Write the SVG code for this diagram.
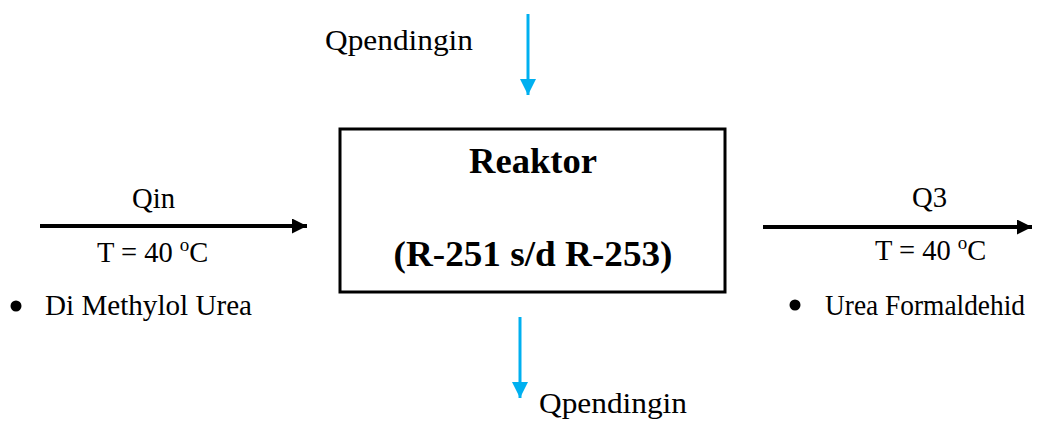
<svg xmlns="http://www.w3.org/2000/svg" width="1041" height="423" viewBox="0 0 1041 423">
  <defs>
    <style>
      .lbl { font-family: "Times New Roman", "Liberation Serif", Tinos, serif; font-size: 28.5px; fill: #000; }
      .title { font-family: "Times New Roman", "Liberation Serif", Tinos, serif; font-size: 35px; font-weight: bold; fill: #000; }
      .flow { stroke: #000; stroke-width: 4; fill: none; }
      .cool { stroke: #00B0F0; stroke-width: 3; fill: none; }
    </style>
    <marker id="headBlack" viewBox="0 0 10 10" refX="10" refY="5" markerUnits="userSpaceOnUse" markerWidth="16" markerHeight="15" orient="auto">
      <path d="M0,0 L10,5 L0,10 Z" fill="#000"/>
    </marker>
    <marker id="headBlue" viewBox="0 0 10 10" refX="10" refY="5" markerUnits="userSpaceOnUse" markerWidth="16" markerHeight="16" orient="auto">
      <path d="M0,0 L10,5 L0,10 Z" fill="#00B0F0"/>
    </marker>
  </defs>

  <!-- reactor block -->
  <g id="reaktor">
    <rect x="340" y="129" width="385" height="163" fill="#fff" stroke="#000" stroke-width="3"/>
    <text class="title" x="533" y="173" text-anchor="middle" textLength="128" lengthAdjust="spacingAndGlyphs">Reaktor</text>
    <text class="title" x="533" y="266" text-anchor="middle" textLength="279" lengthAdjust="spacingAndGlyphs">(R-251 s/d R-253)</text>
  </g>

  <!-- inlet stream -->
  <g id="inlet">
    <text class="lbl" x="132" y="208" textLength="43" lengthAdjust="spacingAndGlyphs">Qin</text>
    <text class="lbl" x="97" y="262">T = 40 <tspan font-size="19" dy="-11">o</tspan><tspan dy="11">C</tspan></text>
    <circle cx="16" cy="306" r="5.5" fill="#000"/>
    <text class="lbl" x="45" y="315" textLength="207" lengthAdjust="spacingAndGlyphs">Di Methylol Urea</text>
  </g>

  <!-- outlet stream -->
  <g id="outlet">
    <text class="lbl" x="912" y="207" textLength="35" lengthAdjust="spacingAndGlyphs">Q3</text>
    <text class="lbl" x="875" y="260">T = 40 <tspan font-size="19" dy="-11">o</tspan><tspan dy="11">C</tspan></text>
    <circle cx="795" cy="305" r="5.5" fill="#000"/>
    <text class="lbl" x="825" y="315" textLength="200" lengthAdjust="spacingAndGlyphs">Urea Formaldehid</text>
  </g>

  <!-- coolant in (top) -->
  <g id="coolant-in">
    <text class="lbl" x="325" y="50" textLength="148" lengthAdjust="spacingAndGlyphs">Qpendingin</text>
  </g>

  <!-- coolant out (bottom) -->
  <g id="coolant-out">
    <text class="lbl" x="539" y="413" textLength="148" lengthAdjust="spacingAndGlyphs">Qpendingin</text>
  </g>

  <!-- connectors -->
  <g id="connectors">
    <line class="flow" x1="40" y1="226" x2="307" y2="226" marker-end="url(#headBlack)"/>
    <line class="flow" x1="763" y1="227" x2="1032" y2="227" marker-end="url(#headBlack)"/>
    <line class="cool" x1="528" y1="14" x2="528" y2="95" marker-end="url(#headBlue)"/>
    <line class="cool" x1="520" y1="317" x2="520" y2="398" marker-end="url(#headBlue)"/>
  </g>
</svg>
